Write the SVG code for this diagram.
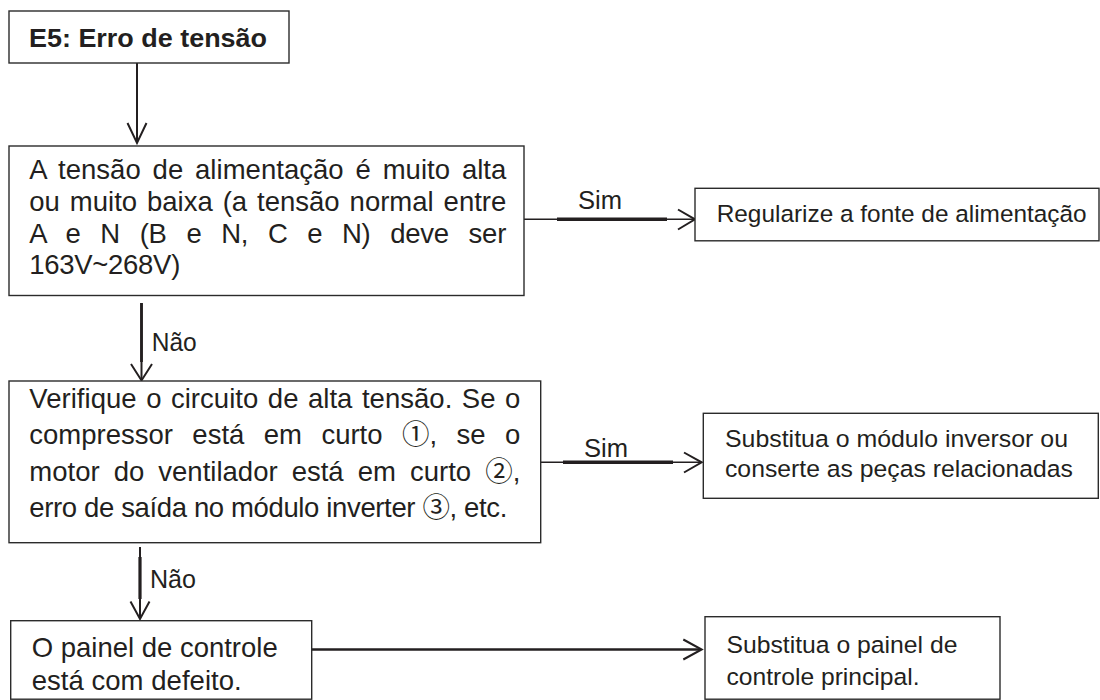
<svg xmlns="http://www.w3.org/2000/svg" width="1100" height="700" viewBox="0 0 1100 700">
<style>
.box{fill:#fff;stroke:#2b2b2b;stroke-width:1.4}
.t{font-family:"Liberation Sans","DejaVu Sans","Noto Sans CJK SC",sans-serif;font-size:24.5px;fill:#231f20}
.lbl{font-size:25.5px}
.w{font-size:27.5px}
.bold{font-weight:bold;font-size:26px}
.cd{font-family:"Noto Sans CJK JP","Noto Sans CJK SC","DejaVu Sans",sans-serif}
.c{fill:none;stroke:#231f20;stroke-width:2;stroke-linejoin:miter}
.thin{stroke-width:1.5}
.thick{stroke-width:3.4}
</style>
<rect x="0" y="0" width="1100" height="700" fill="#fff"/>

<g id="connectors">
  <!-- E5 -> box2 -->
  <line class="c" x1="137" y1="63" x2="137" y2="142"/>
  <polyline class="c" points="127.5,123 137,143 146.5,123"/>
  <!-- box2 -> box4 (Não) -->
  <line class="c" x1="141.5" y1="303" x2="141.5" y2="379"/>
  <line class="c" x1="141.5" y1="303" x2="141.5" y2="362" style="stroke-width:2.8"/>
  <polyline class="c" points="131,364 141.5,380.5 152,364"/>
  <text class="t lbl" x="151.7" y="351" textLength="45" lengthAdjust="spacingAndGlyphs">Não</text>
  <!-- box4 -> box6 (Não) -->
  <line class="c" x1="140" y1="547" x2="140" y2="618"/>
  <line class="c" x1="140" y1="557" x2="140" y2="599" style="stroke-width:3.2"/>
  <polyline class="c" points="130.5,601.5 140,619 149.5,601.5"/>
  <text class="t lbl" x="150" y="588.3" textLength="46" lengthAdjust="spacingAndGlyphs">Não</text>
  <!-- box2 -> box3 (Sim) -->
  <line class="c thin" x1="524" y1="219.3" x2="694" y2="219.3"/>
  <line class="c thick" x1="557" y1="219.3" x2="667" y2="219.3"/>
  <polyline class="c" points="678,209.5 695,219.3 678,229.5"/>
  <text class="t lbl" x="578" y="209" textLength="44" lengthAdjust="spacingAndGlyphs">Sim</text>
  <!-- box4 -> box5 (Sim) -->
  <line class="c thin" x1="541" y1="462.3" x2="700.5" y2="462.3"/>
  <line class="c thick" x1="563" y1="462.3" x2="673" y2="462.3"/>
  <polyline class="c" points="684,452.5 701.7,462.3 684,472.5"/>
  <text class="t lbl" x="584" y="456.7" textLength="44" lengthAdjust="spacingAndGlyphs">Sim</text>
  <!-- box6 -> box7 -->
  <line class="c" x1="312" y1="649.5" x2="700.5" y2="649.5" style="stroke-width:2.6"/>
  <polyline class="c" points="683.3,639.5 701.7,649.5 683.3,659.5"/>
</g>

<g id="node-e5">
  <rect class="box" x="9" y="11" width="280" height="52"/>
  <text class="t bold" x="29" y="47" textLength="238" lengthAdjust="spacingAndGlyphs">E5: Erro de tensão</text>
</g>

<g id="node-tensao">
  <rect class="box" x="9" y="146" width="515" height="149.5"/>
  <text class="t w" x="29.3" y="179" word-spacing="4.2" textLength="477" lengthAdjust="spacing">A tensão de alimentação é muito alta</text>
  <text class="t w" x="29.3" y="211" word-spacing="2.3" textLength="477" lengthAdjust="spacing">ou muito baixa (a tensão normal entre</text>
  <text class="t w" x="29.3" y="243" word-spacing="12.3" textLength="477" lengthAdjust="spacing">A e N (B e N, C e N) deve ser</text>
  <text class="t w" x="29.3" y="274" textLength="151" lengthAdjust="spacing">163V~268V)</text>
</g>

<g id="node-regularize">
  <rect class="box" x="695" y="188.3" width="404" height="52.5"/>
  <text class="t" x="716.7" y="222" textLength="370" lengthAdjust="spacingAndGlyphs">Regularize a fonte de alimentação</text>
</g>

<g id="node-verifique">
  <rect class="box" x="9" y="381" width="531.7" height="161.7"/>
  <text class="t w" x="29.3" y="407.5" word-spacing="1.8" textLength="491" lengthAdjust="spacing">Verifique o circuito de alta tensão. Se o</text>
  <text class="t w" x="29.3" y="444" word-spacing="11.8" textLength="491" lengthAdjust="spacing">compressor está em curto <tspan class="cd">①</tspan>, se o</text>
  <text class="t w" x="29.3" y="480.5" word-spacing="6.4" textLength="491" lengthAdjust="spacing">motor do ventilador está em curto <tspan class="cd">②</tspan>,</text>
  <text class="t w" x="29.3" y="517" textLength="478" lengthAdjust="spacing">erro de saída no módulo inverter <tspan class="cd">③</tspan>, etc.</text>
</g>

<g id="node-substitua-modulo">
  <rect class="box" x="703.3" y="413.3" width="395" height="85"/>
  <text class="t" x="725" y="446.7" textLength="343" lengthAdjust="spacingAndGlyphs">Substitua o módulo inversor ou</text>
  <text class="t" x="725" y="477" textLength="348" lengthAdjust="spacingAndGlyphs">conserte as peças relacionadas</text>
</g>

<g id="node-painel">
  <rect class="box" x="10.7" y="620.7" width="301" height="78.5"/>
  <text class="t w" x="31.7" y="656.7" textLength="246" lengthAdjust="spacing">O painel de controle</text>
  <text class="t w" x="31.7" y="690" textLength="210" lengthAdjust="spacing">está com defeito.</text>
</g>

<g id="node-substitua-painel">
  <rect class="box" x="705" y="616.7" width="295" height="82.5"/>
  <text class="t" x="726.5" y="653" textLength="231" lengthAdjust="spacingAndGlyphs">Substitua o painel de</text>
  <text class="t" x="726.5" y="685" textLength="193" lengthAdjust="spacingAndGlyphs">controle principal.</text>
</g>
</svg>
